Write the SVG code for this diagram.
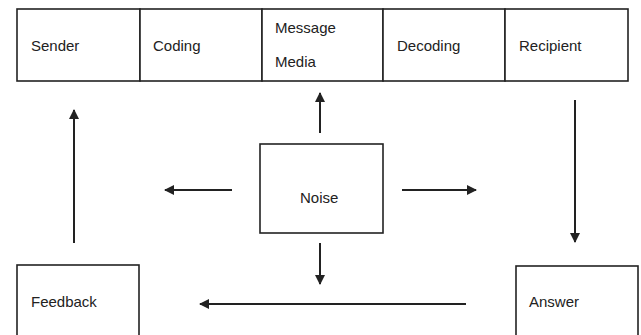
<svg xmlns="http://www.w3.org/2000/svg" width="641" height="335" viewBox="0 0 641 335">
<style>
.box{fill:#fff;stroke:#222;stroke-width:1.6}
.t{font-family:"Liberation Sans",Arial,sans-serif;font-size:15px;fill:#222}
.c{stroke:#222;stroke-width:2;fill:none}
</style>
<defs>
<marker id="ah" viewBox="0 0 10 10" refX="9" refY="5" markerWidth="5" markerHeight="5" orient="auto" markerUnits="strokeWidth">
<path d="M0,0 L10,5 L0,10 Z" fill="#222"/>
</marker>
</defs>
<rect width="641" height="335" fill="#fff"/>
<g id="sender"><rect class="box" x="17" y="9" width="123" height="72"/><text class="t" x="31" y="51">Sender</text></g>
<g id="coding"><rect class="box" x="140" y="9" width="122" height="72"/><text class="t" x="153" y="51">Coding</text></g>
<g id="media"><rect class="box" x="262" y="9" width="121" height="72"/><text class="t" x="275" y="33">Message</text><text class="t" x="275" y="67">Media</text></g>
<g id="decoding"><rect class="box" x="383" y="9" width="122" height="72"/><text class="t" x="397" y="51">Decoding</text></g>
<g id="recipient"><rect class="box" x="505" y="9" width="123" height="72"/><text class="t" x="519" y="51">Recipient</text></g>
<g id="noise"><rect class="box" x="260" y="144" width="123" height="89"/><text class="t" x="300" y="203">Noise</text></g>
<g id="feedback"><rect class="box" x="17" y="265" width="122" height="80"/><text class="t" x="31" y="307">Feedback</text></g>
<g id="answer"><rect class="box" x="516" y="266" width="122" height="80"/><text class="t" x="529" y="307">Answer</text></g>
<g id="connectors">
<line class="c" x1="320" y1="133" x2="320" y2="93" marker-end="url(#ah)"/>
<line class="c" x1="74" y1="243" x2="74" y2="110" marker-end="url(#ah)"/>
<line class="c" x1="575" y1="100" x2="575" y2="242" marker-end="url(#ah)"/>
<line class="c" x1="232" y1="190" x2="165" y2="190" marker-end="url(#ah)"/>
<line class="c" x1="402" y1="190" x2="476" y2="190" marker-end="url(#ah)"/>
<line class="c" x1="320" y1="243" x2="320" y2="284" marker-end="url(#ah)"/>
<line class="c" x1="466" y1="304" x2="200" y2="304" marker-end="url(#ah)"/>
</g>
</svg>
